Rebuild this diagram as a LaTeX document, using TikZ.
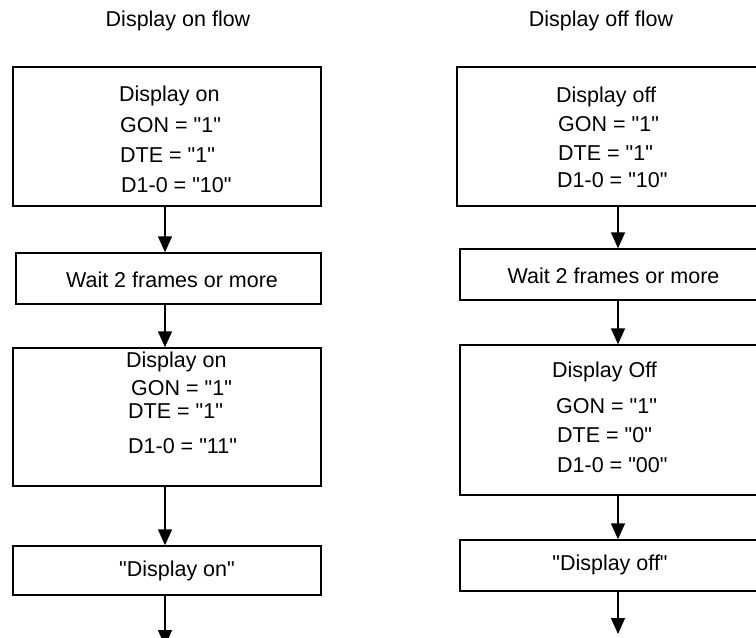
\documentclass[tikz,border=0pt]{standalone}
\usepackage{fontspec}
\setmainfont{Liberation Sans}
\usetikzlibrary{arrows.meta}
\newcommand{\qd}{\textquotedbl}
\begin{document}
\begin{tikzpicture}[x=1pt,y=-1pt,
  box/.style={draw,line width=1.4pt,inner sep=0pt},
  txt/.style={anchor=base west,inner sep=0pt,font=\fontsize{21.5}{24}\selectfont},
  ctxt/.style={anchor=base,inner sep=0pt,font=\fontsize{21.5}{24}\selectfont},
  arr/.style={line width=1.4pt,-{Triangle[length=16pt,width=14pt]}}]
\useasboundingbox (0,0) rectangle (756,638);
\clip (0,0) rectangle (756,638);
% titles
\node[ctxt] (t1) at (178,26) {Display on flow};
\node[ctxt] (t2) at (601,26) {Display off flow};
% left boxes
\node[box,minimum width=308pt,minimum height=139pt] (L1) at (167,136.5) {};
\node[box,minimum width=305pt,minimum height=51pt] (L2) at (168.5,278.5) {};
\node[box,minimum width=308pt,minimum height=138pt] (L3) at (167,417) {};
\node[box,minimum width=308pt,minimum height=49pt] (L4) at (167,570.5) {};
% right boxes
\node[box,minimum width=319pt,minimum height=139pt] (R1) at (616.5,136.5) {};
\node[box,minimum width=316pt,minimum height=51pt] (R2) at (618,274.5) {};
\node[box,minimum width=316pt,minimum height=150pt] (R3) at (618,420) {};
\node[box,minimum width=316pt,minimum height=51pt] (R4) at (618,565.5) {};
% left texts
\node[txt] (l1a) at (119,101) {Display on};
\node[txt] (l1b) at (120,132) {GON = \qd1\qd};
\node[txt] (l1c) at (120,162) {DTE = \qd1\qd};
\node[txt] (l1d) at (121,192) {D1-0 = \qd10\qd};
\node[ctxt] (l2a) at (172,287) {Wait 2 frames or more};
\node[txt] (l3a) at (126,367) {Display on};
\node[txt] (l3b) at (131,395) {GON = \qd1\qd};
\node[txt] (l3c) at (128,418) {DTE = \qd1\qd};
\node[txt] (l3d) at (128,453) {D1-0 = \qd11\qd};
\node[ctxt] (l4a) at (177,576) {\qd Display on\qd};
% right texts
\node[txt] (r1a) at (556,102) {Display off};
\node[txt] (r1b) at (558,131) {GON = \qd1\qd};
\node[txt] (r1c) at (558,160) {DTE = \qd1\qd};
\node[txt] (r1d) at (557,187) {D1-0 = \qd10\qd};
\node[ctxt] (r2a) at (613.5,283) {Wait 2 frames or more};
\node[txt] (r3a) at (552,377) {Display Off};
\node[txt] (r3b) at (556,413) {GON = \qd1\qd};
\node[txt] (r3c) at (557,442) {DTE = \qd0\qd};
\node[txt] (r3d) at (557,472) {D1-0 = \qd00\qd};
\node[ctxt] (r4a) at (610,570) {\qd Display off\qd};
% arrows
\coordinate (ax) at (165,0);
\coordinate (bx) at (618,0);
\coordinate (Lend) at (165,646);
\coordinate (Rend) at (618,634);
\draw[arr] (L1.south -| ax) -- (L2.north -| ax);
\draw[arr] (L2.south -| ax) -- (L3.north -| ax);
\draw[arr] (L3.south -| ax) -- (L4.north -| ax);
\draw[arr] (L4.south -| ax) -- (Lend);
\draw[arr] (R1.south -| bx) -- (R2.north -| bx);
\draw[arr] (R2.south -| bx) -- (R3.north -| bx);
\draw[arr] (R3.south -| bx) -- (R4.north -| bx);
\draw[arr] (R4.south -| bx) -- (Rend);
\end{tikzpicture}
\end{document}
